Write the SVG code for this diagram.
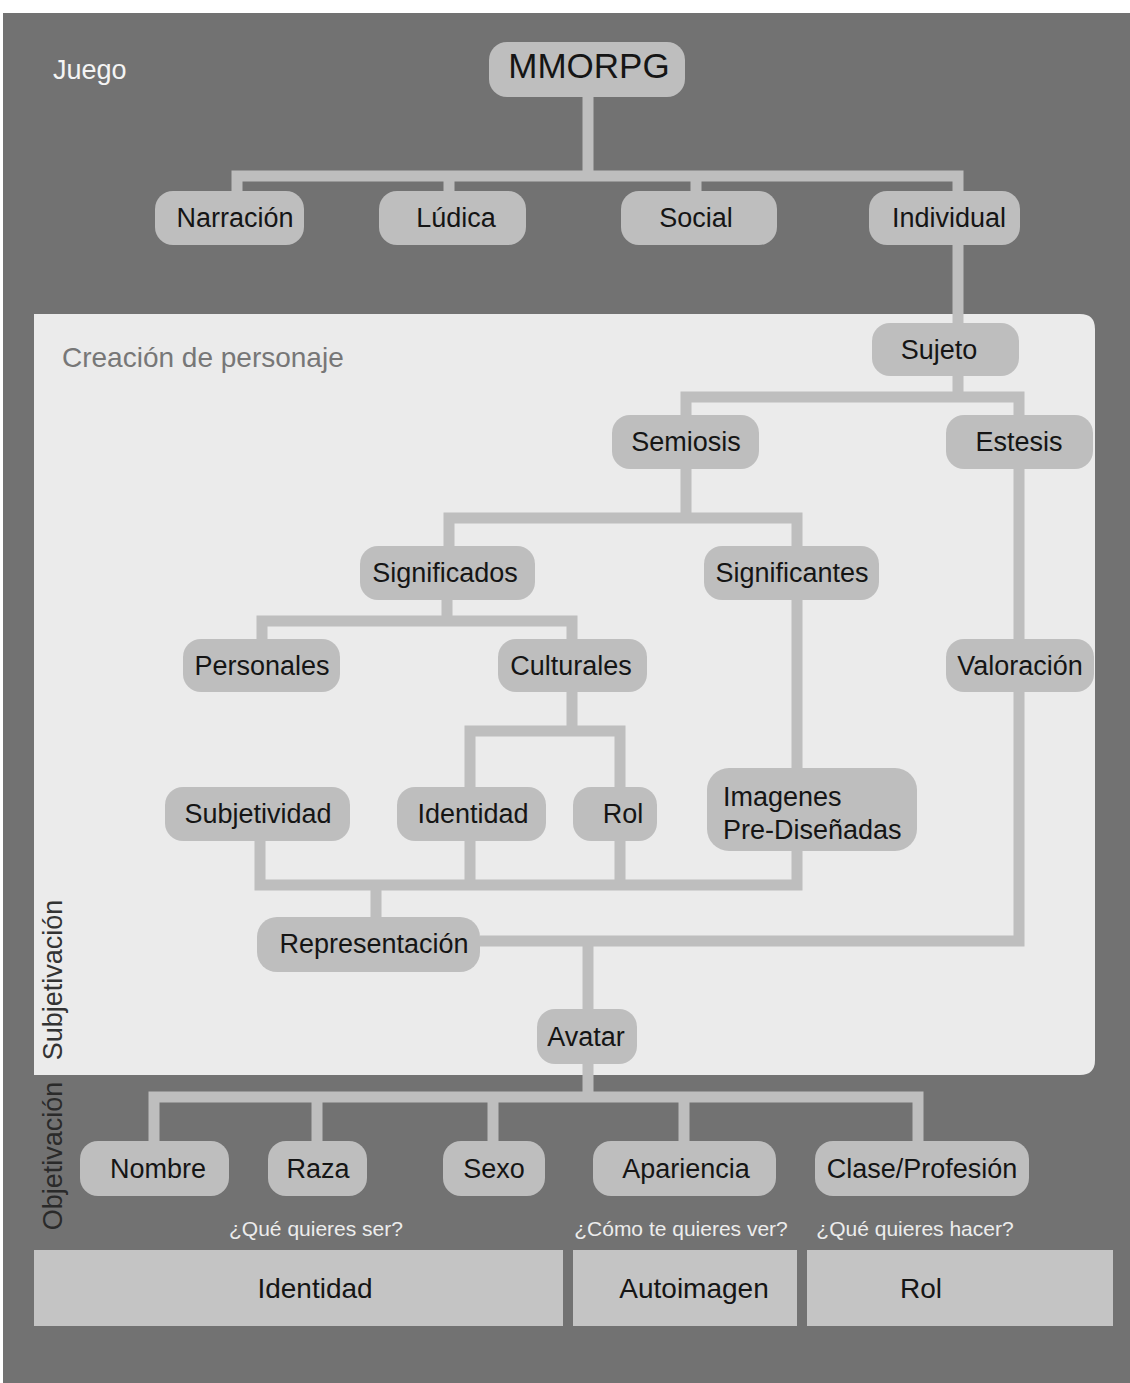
<svg xmlns="http://www.w3.org/2000/svg" width="1130" height="1383" viewBox="0 0 1130 1383">
<style>
  .n rect { fill: #bebebe; }
  .n text { font-family: "Liberation Sans", Arial, sans-serif; font-size: 27px; fill: #151515; text-anchor: middle; }
  .c { fill: none; stroke: #bebebe; stroke-width: 11; stroke-linejoin: miter; stroke-linecap: butt; }
  .q { font-family: "Liberation Sans", Arial, sans-serif; font-size: 21px; fill: #ececec; text-anchor: middle; }
  .b rect { fill: #c4c4c4; }
  .b text { font-family: "Liberation Sans", Arial, sans-serif; font-size: 28px; fill: #151515; text-anchor: middle; }
  .side { font-family: "Liberation Sans", Arial, sans-serif; font-size: 27px; text-anchor: middle; }
</style>

<!-- canvas -->
<rect x="0" y="0" width="1130" height="1383" fill="#ffffff"/>
<rect x="3" y="13" width="1127" height="1370" fill="#727272"/>

<!-- character creation panel (square left corners, rounded right corners) -->
<path d="M34 314 H1080 Q1095 314 1095 329 V1060 Q1095 1075 1080 1075 H34 Z" fill="#ebebeb"/>

<text x="53" y="79" font-family="Liberation Sans, Arial, sans-serif" font-size="27" fill="#f4f4f4">Juego</text>
<text x="62" y="367" font-family="Liberation Sans, Arial, sans-serif" font-size="28" fill="#777777">Creación de personaje</text>
<text class="side" transform="translate(62 980) rotate(-90)" fill="#333333">Subjetivación</text>
<text class="side" transform="translate(62 1156) rotate(-90)" fill="#2a2a2a">Objetivación</text>

<!-- connectors -->
<g id="connectors" class="c">
  <path d="M588 97 V176 M237 191 V176 H958 V191 M449 176 V191 M696 176 V191"/>
  <path d="M958 245 V323"/>
  <path d="M958 376 V397 M686 415 V397 H1019 V415"/>
  <path d="M1019 469 V639 M1019 692 V941 H480"/>
  <path d="M686 469 V518 M449 546 V518 H797 V546"/>
  <path d="M447 600 V621 M262 639 V621 H572 V639"/>
  <path d="M572 692 V731 M470 787 V731 H620 V787"/>
  <path d="M797 600 V768"/>
  <path d="M260 841 V885 H797 V851 M470 841 V885 M620 841 V885 M376 885 V917"/>
  <path d="M588 946 V1009"/>
  <path d="M588 1064 V1097 M154 1141 V1097 H918 V1141 M317 1097 V1141 M493 1097 V1141 M684 1097 V1141"/>
</g>

<!-- nodes -->
<g id="mmorpg" class="n"><rect x="489" y="42" width="196" height="55" rx="18"/><text x="589" y="78" style="font-size:35px">MMORPG</text></g>
<g id="narracion" class="n"><rect x="155" y="191" width="149" height="54" rx="18"/><text x="235" y="227">Narración</text></g>
<g id="ludica" class="n"><rect x="379" y="191" width="147" height="54" rx="18"/><text x="456" y="227">Lúdica</text></g>
<g id="social" class="n"><rect x="621" y="191" width="156" height="54" rx="18"/><text x="696" y="227">Social</text></g>
<g id="individual" class="n"><rect x="869" y="191" width="151" height="54" rx="18"/><text x="949" y="227">Individual</text></g>

<g id="sujeto" class="n"><rect x="872" y="323" width="147" height="53" rx="18"/><text x="939" y="359">Sujeto</text></g>
<g id="semiosis" class="n"><rect x="612" y="415" width="147" height="54" rx="18"/><text x="686" y="451">Semiosis</text></g>
<g id="estesis" class="n"><rect x="946" y="415" width="147" height="54" rx="18"/><text x="1019" y="451">Estesis</text></g>
<g id="significados" class="n"><rect x="360" y="546" width="175" height="54" rx="18"/><text x="445" y="582">Significados</text></g>
<g id="significantes" class="n"><rect x="704" y="546" width="175" height="54" rx="18"/><text x="792" y="582">Significantes</text></g>
<g id="personales" class="n"><rect x="183" y="639" width="157" height="53" rx="18"/><text x="262" y="675">Personales</text></g>
<g id="culturales" class="n"><rect x="498" y="639" width="149" height="53" rx="18"/><text x="571" y="675">Culturales</text></g>
<g id="valoracion" class="n"><rect x="946" y="639" width="148" height="53" rx="18"/><text x="1020" y="675">Valoración</text></g>
<g id="subjetividad" class="n"><rect x="165" y="787" width="185" height="54" rx="18"/><text x="258" y="823">Subjetividad</text></g>
<g id="identidad" class="n"><rect x="397" y="787" width="149" height="54" rx="18"/><text x="473" y="823">Identidad</text></g>
<g id="rol" class="n"><rect x="573" y="787" width="84" height="54" rx="18"/><text x="623" y="823">Rol</text></g>
<g id="imagenes" class="n"><rect x="707" y="768" width="210" height="83" rx="22"/><text x="723" y="806" style="text-anchor:start">Imagenes</text><text x="723" y="839" style="text-anchor:start">Pre-Diseñadas</text></g>
<g id="representacion" class="n"><rect x="257" y="917" width="223" height="55" rx="20"/><text x="374" y="953">Representación</text></g>
<g id="avatar" class="n"><rect x="537" y="1009" width="100" height="55" rx="18"/><text x="586" y="1046">Avatar</text></g>

<g id="nombre" class="n"><rect x="80" y="1141" width="149" height="55" rx="18"/><text x="158" y="1178">Nombre</text></g>
<g id="raza" class="n"><rect x="268" y="1141" width="99" height="55" rx="18"/><text x="318" y="1178">Raza</text></g>
<g id="sexo" class="n"><rect x="443" y="1141" width="102" height="55" rx="18"/><text x="494" y="1178">Sexo</text></g>
<g id="apariencia" class="n"><rect x="593" y="1141" width="183" height="55" rx="18"/><text x="686" y="1178">Apariencia</text></g>
<g id="clase" class="n"><rect x="815" y="1141" width="214" height="55" rx="18"/><text x="922" y="1178">Clase/Profesión</text></g>

<!-- guiding questions -->
<text class="q" x="316" y="1236">¿Qué quieres ser?</text>
<text class="q" x="681" y="1236">¿Cómo te quieres ver?</text>
<text class="q" x="915" y="1236">¿Qué quieres hacer?</text>

<!-- outcome boxes -->
<g id="out-identidad" class="b"><rect x="34" y="1250" width="529" height="76"/><text x="315" y="1298">Identidad</text></g>
<g id="out-autoimagen" class="b"><rect x="573" y="1250" width="224" height="76"/><text x="694" y="1298">Autoimagen</text></g>
<g id="out-rol" class="b"><rect x="807" y="1250" width="306" height="76"/><text x="921" y="1298">Rol</text></g>
</svg>
